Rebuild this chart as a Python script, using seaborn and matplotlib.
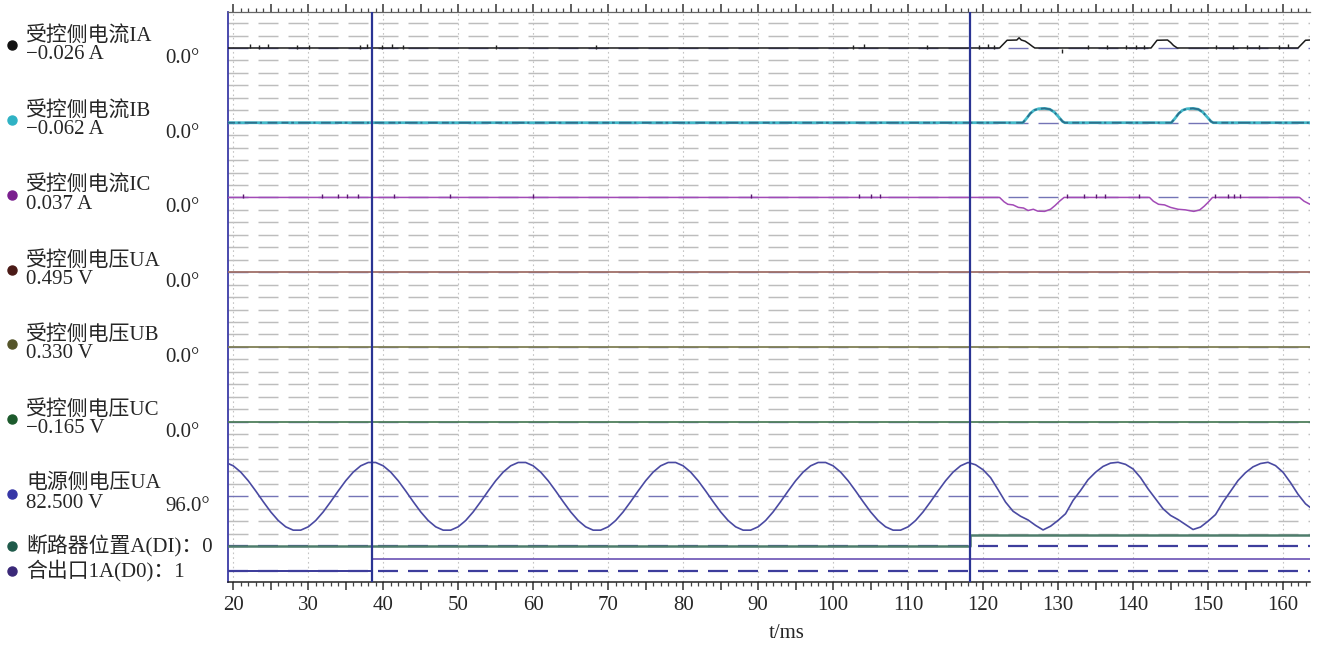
import numpy as np
import matplotlib
matplotlib.use("Agg")
import matplotlib.pyplot as plt
import matplotlib.transforms as mtransforms
from matplotlib.ticker import MultipleLocator, FuncFormatter
import seaborn as sns

# ---------------------------------------------------------------- data
# recording window (ms) and the two cursor positions (ms)
T_START, T_END = 19.3, 163.6
CURSORS = [38.5, 118.3]

# channel captions and readouts at the cursor
CH_NAMES = ["受控侧电流IA", "受控侧电流IB", "受控侧电流IC",
            "受控侧电压UA", "受控侧电压UB", "受控侧电压UC", "电源侧电压UA"]
CH_VALUES = ["−0.026 A", "−0.062 A", "0.037 A",
             "0.495 V", "0.330 V", "−0.165 V", "82.500 V"]
CH_ANGLES = ["0.0°", "0.0°", "0.0°", "0.0°", "0.0°", "0.0°", "96.0°"]
DIG_NAMES = ["断路器位置A(DI)：0", "合出口1A(D0)：1"]

# controlled-side currents (A), breakpoints of the recorded traces
IA_T = [T_START, 122.2, 123.2, 124.5, 124.8, 125.1, 125.6, 126.1, 126.6, 126.9,
        142.4, 143.2, 144.6, 145.0, 145.4, 145.9, 162.0, 163.0, T_END]
IA_A = [0, 0, 0.62, 0.64, 0.82, 0.64, 0.55, 0.35, 0.12, 0,
        0, 0.62, 0.64, 0.45, 0.2, 0, 0, 0.62, 0.64]
IA_SPIKE_T = [22.3, 23.4, 24.6, 28.5, 30.1, 36.9, 37.8, 39.9, 41.2, 42.6, 55.0,
              68.4, 102.7, 104.1, 112.5, 119.5, 120.6, 121.5, 130.5, 134.0,
              136.5, 139.1, 140.4, 141.5, 151.0, 153.3, 155.2, 156.8, 159.4, 160.7]
IA_SPIKE_A = [0.12, 0.1, 0.12, 0.1, 0.1, 0.1, 0.12, 0.1, 0.12, 0.1, 0.1,
              0.1, 0.1, 0.12, 0.1, 0.1, 0.12, 0.1, -0.22, 0.08,
              0.1, 0.1, 0.08, 0.1, 0.1, 0.08, 0.1, 0.1, 0.1, 0.12]

IB_T = [T_START, 125.3, 125.8, 126.3, 126.8, 127.4, 128.2, 128.9, 129.5, 130.1, 130.6, 130.9,
        145.1, 145.6, 146.1, 146.6, 147.2, 148.0, 148.7, 149.3, 149.9, 150.4, 150.7, T_END]
IB_A = [0, 0, 0.35, 0.75, 1.0, 1.12, 1.15, 1.08, 0.85, 0.45, 0.1, 0,
        0, 0.35, 0.75, 1.0, 1.12, 1.15, 1.08, 0.85, 0.45, 0.1, 0, 0]

IC_T = [T_START, 122.2, 122.8, 123.3, 124.0, 124.7, 125.4, 126.0, 126.7, 127.3, 128.2,
        129.0, 129.6, 130.2, 130.8,
        142.2, 142.7, 143.4, 144.2, 145.0, 146.0, 147.0, 148.1, 148.9, 149.5, 150.0, 150.6,
        162.2, 162.8, T_END]
IC_A = [0, 0, -0.35, -0.55, -0.6, -0.8, -0.85, -1.05, -0.95, -1.1, -1.12,
        -0.95, -0.65, -0.3, 0,
        0, -0.3, -0.55, -0.6, -0.8, -0.95, -1.0, -1.12, -1.0, -0.7, -0.4, 0,
        0, -0.3, -0.55]
IC_SPIKE_T = [21.3, 31.8, 34.0, 35.2, 36.6, 41.5, 48.9, 60.0, 89.0, 103.5, 105.0,
              106.2, 131.2, 133.5, 135.0, 136.3, 140.8, 150.9, 152.6, 153.4, 154.2]
IC_SPIKE_A = [0.12] * len(IC_SPIKE_T)

# controlled-side voltages (V): flat over the whole window
CTRL_T = [T_START, T_END]
CTRL_UA = [0.495, 0.495]
CTRL_UB = [0.330, 0.330]
CTRL_UC = [-0.165, -0.165]

# source-side voltage UA (V), one sample per ms from 19 ms to 164 ms
SRC_T = list(range(19, 165))
SRC_UA = [
    81.5, 73.5, 58.3, 37.5, 12.9, -12.9, -37.5, -58.3, -73.5, -81.5,
    -81.5, -73.5, -58.3, -37.5, -12.9, 12.9, 37.5, 58.3, 73.5, 81.5,
    81.5, 73.5, 58.3, 37.5, 12.9, -12.9, -37.5, -58.3, -73.5, -81.5,
    -81.5, -73.5, -58.3, -37.5, -12.9, 12.9, 37.5, 58.3, 73.5, 81.5,
    81.5, 73.5, 58.3, 37.5, 12.9, -12.9, -37.5, -58.3, -73.5, -81.5,
    -81.5, -73.5, -58.3, -37.5, -12.9, 12.9, 37.5, 58.3, 73.5, 81.5,
    81.5, 73.5, 58.3, 37.5, 12.9, -12.9, -37.5, -58.3, -73.5, -81.5,
    -81.5, -73.5, -58.3, -37.5, -12.9, 12.9, 37.5, 58.3, 73.5, 81.5,
    81.5, 73.5, 58.3, 37.5, 12.9, -12.9, -37.5, -58.3, -73.5, -81.5,
    -81.5, -73.5, -58.3, -37.5, -12.9, 12.9, 37.5, 58.3, 73.5, 81.5,
    76, 64, 45, 16, -14, -36, -48, -57, -70, -81,
    -72, -58, -42, -10, 14, 40, 58, 72, 80, 82,
    77, 66, 45, 18, -6, -30, -46, -56, -68, -80,
    -74, -60, -44, -14, 12, 38, 57, 71, 79, 82,
    74, 58, 33, 5, -18, -32,
]

# binary channels: switching instants and states
DI_T = [T_START, 118.3, T_END]
DI_STATE = [0, 1, 1]
DO_T = [T_START, 38.5, T_END]
DO_STATE = [0, 1, 1]

# ---------------------------------------------------------------- layout
ANALOG_OFFSET = [0, -6, -12, -18, -24, -30, -36]   # baseline of each channel (divisions)
DIGITAL_OFFSET = [-40, -42]
DIGITAL_HIGH = 0.93
AMP_PER_DIV = 1.0
VOLT_PER_DIV = 30.0

DOT_COLORS = ["#111111", "#2fb2c4", "#7a1f8e", "#4a1a16", "#55552a", "#1c5a2c", "#3636a6"]
DIG_DOT_COLORS = ["#1f5a4a", "#3a2878"]
TRACE_COLORS = {"IA": "#1a1a1a", "IB": "#44b9c9", "IC": "#a24ab6",
                "UA": "#a07068", "UB": "#7f7f55", "UC": "#4f7f5c",
                "SRC": "#4a4aa2", "DI": "#4f7d6c", "DO": "#6a52b4"}
TEXT_COLOR = "#262626"

sns.set_theme(style="white")
plt.rcParams["font.family"] = ["Liberation Serif", "Noto Sans CJK SC", "DejaVu Sans"]
plt.rcParams["lines.scale_dashes"] = False
plt.rcParams["axes.unicode_minus"] = True

W, H = 1318, 646
fig = plt.figure(figsize=(W / 100, H / 100), dpi=100)
fig.patch.set_facecolor("white")
ax = fig.add_axes([228 / W, 1 - 582 / H, (1310 - 228) / W, (582 - 12) / H])
ax.set_facecolor("white")
ax.set_xlim(T_START, T_END)
ax.set_ylim(-42.88, 2.89)

DASH = (0, (14.4, 7.2))

# horizontal division lines
for k in range(-39, 3):
    if k % 6 != 0:
        ax.axhline(k, color="#bdbdbd", lw=1.05, ls=DASH, zorder=1)
# vertical grid every 10 ms
for xv in range(20, 161, 10):
    ax.axvline(xv, color="#c4c4c4", lw=0.8, ls=(0, (1.2, 2.2)), zorder=1)
# channel zero lines
for off in ANALOG_OFFSET:
    ax.axhline(off, color="#7474b6", lw=1.0, ls=DASH, zorder=1.5)
for off in DIGITAL_OFFSET:
    ax.axhline(off, color="#3d3d9c", lw=1.6, ls=DASH, zorder=1.5)


def amp(values, off, scale):
    return off + np.asarray(values, dtype=float) / scale


# currents
sns.lineplot(x=IA_T, y=amp(IA_A, ANALOG_OFFSET[0], AMP_PER_DIV), ax=ax,
             color=TRACE_COLORS["IA"], lw=1.1, estimator=None, sort=False, zorder=3)
sns.scatterplot(x=IA_SPIKE_T, y=amp(IA_SPIKE_A, ANALOG_OFFSET[0], AMP_PER_DIV), ax=ax,
                color="#222222", marker="|", s=9, linewidth=1.0, zorder=3)

y_ib = amp(IB_A, ANALOG_OFFSET[1], AMP_PER_DIV)
sns.lineplot(x=IB_T, y=y_ib, ax=ax, color=TRACE_COLORS["IB"], lw=2.0,
             estimator=None, sort=False, zorder=3)
sns.lineplot(x=IB_T, y=y_ib, ax=ax, color="#2c6f8c", lw=1.3,
             linestyle=(0, (5, 2, 2, 3, 9, 2, 1.5, 4, 7, 3)),
             estimator=None, sort=False, zorder=3.1)

sns.lineplot(x=IC_T, y=amp(IC_A, ANALOG_OFFSET[2], AMP_PER_DIV), ax=ax,
             color=TRACE_COLORS["IC"], lw=1.1, estimator=None, sort=False, zorder=3)
sns.scatterplot(x=IC_SPIKE_T, y=amp(IC_SPIKE_A, ANALOG_OFFSET[2], AMP_PER_DIV), ax=ax,
                color="#5a1a70", marker="|", s=9, linewidth=1.0, zorder=3)

# controlled-side voltages
for vals, off, key in [(CTRL_UA, ANALOG_OFFSET[3], "UA"),
                       (CTRL_UB, ANALOG_OFFSET[4], "UB"),
                       (CTRL_UC, ANALOG_OFFSET[5], "UC")]:
    sns.lineplot(x=CTRL_T, y=amp(vals, off, VOLT_PER_DIV), ax=ax,
                 color=TRACE_COLORS[key], lw=1.3, estimator=None, sort=False, zorder=3)

# source-side voltage
sns.lineplot(x=SRC_T, y=amp(SRC_UA, ANALOG_OFFSET[6], VOLT_PER_DIV), ax=ax,
             color=TRACE_COLORS["SRC"], lw=1.2, estimator=None, sort=False, zorder=3)

# binary channels
ax.plot(DI_T, DIGITAL_OFFSET[0] + DIGITAL_HIGH * np.asarray(DI_STATE, dtype=float),
        color=TRACE_COLORS["DI"], lw=1.8, drawstyle="steps-post", zorder=3)
ax.plot(DO_T, DIGITAL_OFFSET[1] + DIGITAL_HIGH * np.asarray(DO_STATE, dtype=float),
        color=TRACE_COLORS["DO"], lw=1.2, drawstyle="steps-post", zorder=3)
# the low level of the output channel before it switches
ax.plot(DO_T[:2], [DIGITAL_OFFSET[1]] * 2, color="#3d3d9c", lw=1.4, zorder=3)

# cursors
for c in CURSORS:
    ax.axvline(c, color="#2a3493", lw=1.6, zorder=5)

# axes styling
ax.set_yticks([])
ax.xaxis.set_major_locator(MultipleLocator(5))
ax.xaxis.set_minor_locator(MultipleLocator(1))
ax.xaxis.set_major_formatter(FuncFormatter(lambda v, p: f"{v:.0f}" if abs(v % 10) < 1e-6 else ""))
ax.tick_params(axis="x", which="major", direction="out", length=5.5, width=1.1,
               top=True, bottom=True, labeltop=False, labelsize=15,
               labelcolor=TEXT_COLOR, color="#333333", pad=4.5)
ax.tick_params(axis="x", which="minor", direction="out", length=2.8, width=0.9,
               top=True, bottom=True, color="#444444")
ax.spines["right"].set_visible(False)
ax.spines["left"].set_color("#3a3aa6")
ax.spines["left"].set_linewidth(1.3)
ax.spines["top"].set_color("#666666")
ax.spines["top"].set_linewidth(0.9)
ax.spines["bottom"].set_color("#222222")
ax.spines["bottom"].set_linewidth(1.1)

ax.set_xlabel("t/ms", fontsize=15, color=TEXT_COLOR)
ax.xaxis.set_label_coords((787 - 228) / (1310 - 228), -(633 - 582) / (582 - 12))
ax.xaxis.label.set_va("center")

# channel captions on the left
trans = mtransforms.blended_transform_factory(fig.transFigure, ax.transData)
PX = 1 / 12.45  # one pixel in divisions
for i, off in enumerate(ANALOG_OFFSET):
    name_dy = 11.5 * PX if i < 6 else 13.0 * PX
    ax.plot([12 / W], [off + 2.5 * PX], marker="o", ms=6.5, color=DOT_COLORS[i],
            transform=trans, clip_on=False, zorder=6)
    ax.text(26 / W, off + name_dy, CH_NAMES[i], transform=trans, fontsize=15,
            color=TEXT_COLOR, ha="left", va="center")
    ax.text(26 / W, off - 7.0 * PX, CH_VALUES[i], transform=trans, fontsize=15,
            color=TEXT_COLOR, ha="left", va="center")
    ax.text(165 / W, off - 10.5 * PX, CH_ANGLES[i], transform=trans, fontsize=15,
            color=TEXT_COLOR, ha="left", va="center")
for j, off in enumerate(DIGITAL_OFFSET):
    ax.plot([12 / W], [off], marker="o", ms=6.5, color=DIG_DOT_COLORS[j],
            transform=trans, clip_on=False, zorder=6)
    ax.text(26 / W, off, DIG_NAMES[j], transform=trans, fontsize=15,
            color=TEXT_COLOR, ha="left", va="center")

fig.savefig("out.png", dpi=100, facecolor="white")
